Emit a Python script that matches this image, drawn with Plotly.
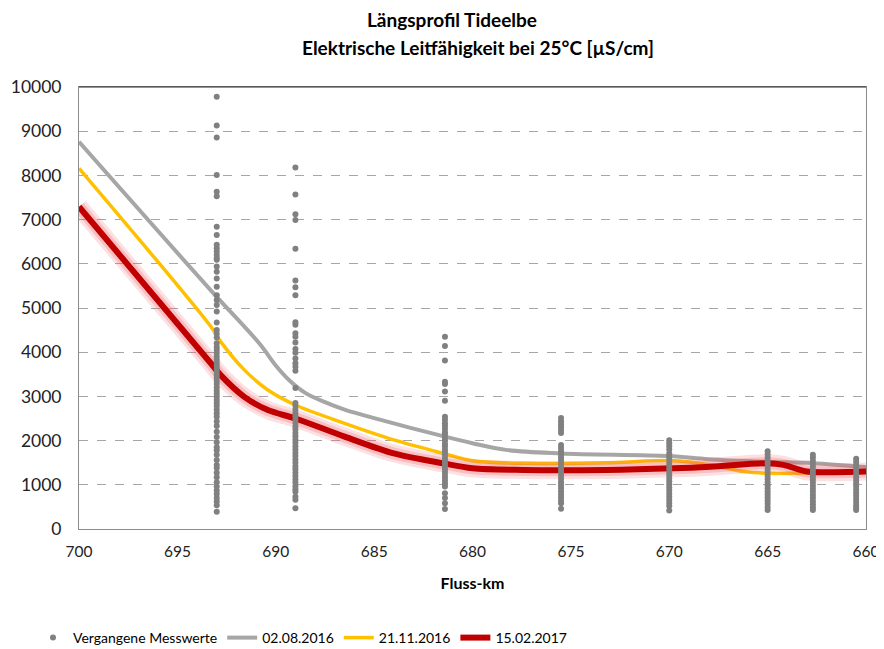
import plotly.graph_objects as go

# ---- data ----
km_columns = [693.0, 689.0, 681.4, 675.5, 670.0, 665.0, 662.7, 660.5]
past_values = [
    [9780, 9130, 8860, 8010, 7630, 7530, 6840, 6650, 6430, 6350, 6280, 6200, 6130, 6090, 5940,
     5820, 5670, 5480, 5290, 5180, 5070, 4920, 4670, 4500, 4420, 4330, 4200, 4120, 4050, 3980,
     3900, 3830, 3760, 3700, 3630, 3560, 3490, 3420, 3350, 3280, 3200, 3130, 3060, 2990, 2920,
     2850, 2780, 2700, 2620, 2540, 2430, 2330, 2200, 2080, 1960, 1850, 1780, 1680, 1560, 1450,
     1380, 1270, 1170, 1060, 960, 870, 790, 700, 620, 540, 390],
    [8180, 7570, 7120, 6990, 6340, 5620, 5470, 5290, 4680, 4620, 4430, 4350, 4220, 4070, 3990,
     3860, 3750, 3670, 3580, 3190, 2850, 2780, 2700, 2620, 2550, 2470, 2400, 2320, 2250, 2170,
     2100, 2020, 1950, 1870, 1800, 1720, 1650, 1570, 1500, 1420, 1350, 1270, 1200, 1120, 1050,
     970, 900, 840, 730, 660, 470],
    [4350, 4140, 3810, 3330, 3280, 3110, 2900, 2540, 2470, 2390, 2330, 2260, 2190, 2130, 2060,
     2000, 1930, 1870, 1800, 1740, 1680, 1610, 1550, 1480, 1420, 1350, 1290, 1220, 1160, 1090,
     1030, 960, 810, 700, 580, 450],
    [2510, 2440, 2370, 2300, 2240, 2170, 1900, 1830, 1760, 1690, 1620, 1550, 1480, 1410, 1340,
     1270, 1200, 1130, 1060, 990, 920, 850, 780, 710, 640, 580, 460],
    [2010, 1940, 1870, 1800, 1710, 1640, 1570, 1500, 1430, 1360, 1290, 1220, 1150, 1080, 1010,
     940, 870, 800, 730, 660, 590, 520, 420],
    [1760, 1690, 1620, 1550, 1480, 1410, 1340, 1270, 1200, 1130, 1060, 990, 920, 850, 780,
     710, 640, 570, 500, 430],
    [1680, 1610, 1540, 1470, 1400, 1330, 1260, 1190, 1120, 1050, 980, 910, 840, 770, 700,
     630, 560, 490, 430],
    [1590, 1520, 1450, 1380, 1310, 1240, 1170, 1100, 1030, 960, 890, 820, 750, 680, 610,
     540, 480, 430],
]

km_2016_08 = [700, 693.3, 690.8, 690.0, 689.3, 688.5, 687.5, 686.5, 684.0, 681.5, 680.0, 678.3, 675.5, 670.0, 668.0, 665.0, 662.7, 660.0]
val_2016_08 = [8760, 5400, 4180, 3700, 3360, 3080, 2870, 2700, 2390, 2100, 1940, 1790, 1710, 1650, 1580, 1520, 1490, 1400]

km_2016_11 = [700, 693.3, 692.8, 691.6, 690.4, 689.0, 686.5, 684.0, 681.5, 680.0, 677.4, 673.2, 669.8, 667.9, 666.2, 665.0, 663.7, 662.7, 660.0]
val_2016_11 = [8160, 4580, 4240, 3600, 3145, 2805, 2390, 2015, 1712, 1546, 1486, 1500, 1546, 1450, 1300, 1260, 1260, 1275, 1300]

km_2017_02 = [700, 693.3, 692.8, 691.6, 690.4, 689.0, 686.5, 684.0, 681.5, 680.0, 677.4, 673.2, 669.8, 667.9, 665.0, 664.2, 663.0, 662.0, 660.0]
val_2017_02 = [7290, 3750, 3480, 2990, 2690, 2500, 2090, 1710, 1486, 1373, 1335, 1335, 1373, 1410, 1486, 1450, 1300, 1285, 1300]

title_lines = ["Längsprofil Tideelbe", "Elektrische Leitfähigkeit bei 25°C [µS/cm]"]
x_ticks = [700, 695, 690, 685, 680, 675, 670, 665, 660]
y_ticks = list(range(0, 10001, 1000))

FONT = "Lato"

# flatten scatter
sx, sy = [], []
for k, vals in zip(km_columns, past_values):
    for v in vals:
        sx.append(k)
        sy.append(v)

fig = go.Figure()

fig.add_trace(go.Scatter(x=km_2016_08, y=val_2016_08, mode="lines", name="02.08.2016",
                         line=dict(color="#A6A6A6", width=4, shape="spline", smoothing=1.0),
                         legendrank=2))
fig.add_trace(go.Scatter(x=km_2016_11, y=val_2016_11, mode="lines", name="21.11.2016",
                         line=dict(color="#FFC000", width=3.5, shape="spline", smoothing=0.9),
                         legendrank=3))
# glow of red line
fig.add_trace(go.Scatter(x=km_2017_02, y=val_2017_02, mode="lines", showlegend=False, hoverinfo="skip",
                         line=dict(color="rgba(240,90,100,0.18)", width=18, shape="spline", smoothing=0.9)))
fig.add_trace(go.Scatter(x=km_2017_02, y=val_2017_02, mode="lines", showlegend=False, hoverinfo="skip",
                         line=dict(color="rgba(240,90,100,0.25)", width=12, shape="spline", smoothing=0.9)))
fig.add_trace(go.Scatter(x=km_2017_02, y=val_2017_02, mode="lines", name="15.02.2017",
                         line=dict(color="#C00000", width=6, shape="spline", smoothing=0.9),
                         legendrank=4))
fig.add_trace(go.Scatter(x=sx, y=sy, mode="markers", name="Vergangene Messwerte",
                         marker=dict(color="#808080", size=6, line=dict(width=0)),
                         legendrank=1))

# page body has an 8px margin: lay the figure out in screen pixels minus that offset
OFF = 8
W, H = 884 - OFF, 649 - OFF
PL, PT, PW, PH = 79 - OFF, 87 - OFF, 787, 442


def px_to_paper(x, y):
    return (x - OFF - PL) / PW, 1 + (PT - (y - OFF)) / PH


for line_text, xpix, ypix in zip(title_lines, [452, 478], [19, 47]):
    ax, ay = px_to_paper(xpix, ypix)
    fig.add_annotation(text="<b>%s</b>" % line_text, x=ax, y=ay,
                       xref="paper", yref="paper", showarrow=False, xanchor="center", yanchor="middle",
                       font=dict(family=FONT, size=19, color="#000000"))

lx, ly = px_to_paper(33, 638)

fig.update_layout(
    width=W, height=H,
    margin=dict(l=PL, r=W - PL - PW, t=PT, b=H - PT - PH, autoexpand=False),
    paper_bgcolor="white", plot_bgcolor="white",
    font=dict(family=FONT, size=16, color="#222222"),
    showlegend=True,
    legend=dict(orientation="h", x=lx, xanchor="left", y=ly, yanchor="middle",
                font=dict(family=FONT, size=14, color="#000000"),
                itemwidth=30, tracegroupgap=0, bgcolor="rgba(0,0,0,0)"),
    xaxis=dict(range=[700, 660], tickvals=x_ticks, ticktext=[str(t) for t in x_ticks],
               showgrid=False, zeroline=False, showline=True, linecolor="#8C8C8C", linewidth=1,
               mirror=True, ticks="", ticklabelstandoff=8, automargin=False,
               tickfont=dict(family=FONT, size=15.5),
               title=dict(text="<b>Fluss-km</b>", font=dict(family=FONT, size=16, color="#000000"), standoff=19)),
    yaxis=dict(range=[0, 10000], tickvals=y_ticks, ticktext=[str(t) for t in y_ticks],
               showgrid=True, gridcolor="#A6A6A6", griddash="dash", gridwidth=1,
               zeroline=False, showline=True, linecolor="#8C8C8C", linewidth=1, mirror=True,
               ticks="", ticklabelstandoff=13, automargin=False, tickfont=dict(family=FONT, size=17.5)),
)

# top frame line (dark)
fig.add_shape(type="line", xref="paper", yref="paper", x0=0, x1=1, y0=1, y1=1,
              line=dict(color="#262626", width=1))

fig.write_html("out.html")
